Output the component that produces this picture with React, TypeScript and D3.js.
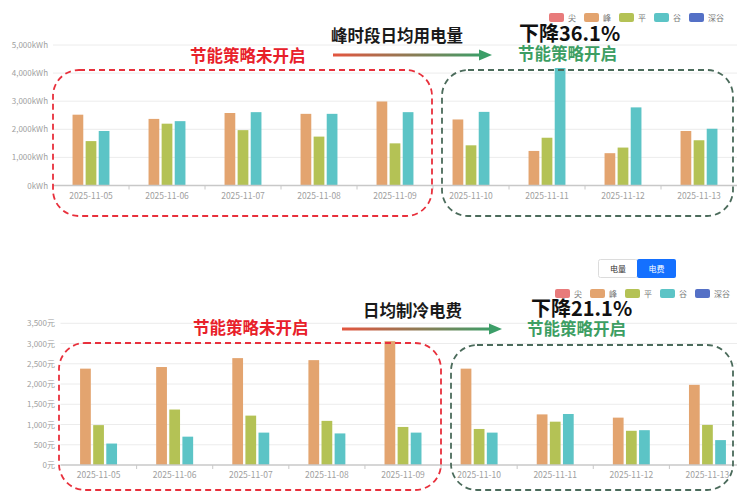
import React, { useEffect, useRef } from 'react'
import * as d3 from 'd3'

const dates = [
  '2025-11-05',
  '2025-11-06',
  '2025-11-07',
  '2025-11-08',
  '2025-11-09',
  '2025-11-10',
  '2025-11-11',
  '2025-11-12',
  '2025-11-13',
]
const seriesNames = ['尖', '峰', '平', '谷', '深谷']
const seriesColors = ['#E87B7B', '#E3A46F', '#B4C255', '#5CC4C6', '#5470C6']

// 电量 (kWh)
const kwhSharp = [0, 0, 0, 0, 0, 0, 0, 0, 0]
const kwhPeak = [2520, 2370, 2580, 2550, 2990, 2350, 1230, 1150, 1940]
const kwhFlat = [1580, 2200, 1970, 1740, 1500, 1430, 1700, 1350, 1610]
const kwhValley = [1940, 2290, 2610, 2550, 2610, 2620, 4180, 2780, 2020]
const kwhDeep = [0, 0, 0, 0, 0, 0, 0, 0, 0]
const kwhTicks = [0, 1000, 2000, 3000, 4000, 5000]

// 电费 (元)
const costSharp = [0, 0, 0, 0, 0, 0, 0, 0, 0]
const costPeak = [2380, 2420, 2640, 2590, 3060, 2380, 1250, 1170, 1980]
const costFlat = [985, 1370, 1220, 1090, 940, 890, 1070, 845, 990]
const costValley = [530, 700, 800, 780, 800, 800, 1260, 860, 615]
const costDeep = [0, 0, 0, 0, 0, 0, 0, 0, 0]
const costTicks = [0, 500, 1000, 1500, 2000, 2500, 3000, 3500]

const FONT = "'Noto Sans CJK SC', 'Noto Sans', sans-serif"

const App = () => {
  const ref = useRef<SVGSVGElement>(null)

  useEffect(() => {
    const svg = d3.select(ref.current)
    svg.selectAll('*').remove()

    const defs = svg.append('defs')
    const grad = defs
      .append('linearGradient')
      .attr('id', 'arrowGrad')
      .attr('x1', '0%')
      .attr('x2', '100%')
      .attr('y1', '0%')
      .attr('y2', '0%')
    grad.append('stop').attr('offset', '0%').attr('stop-color', '#E4553F')
    grad.append('stop').attr('offset', '100%').attr('stop-color', '#3C9E68')

    const drawChart = (opts: any) => {
      const { series, ticks, unit, yMax, yRange, xRange, labelX, legendX, legendY } = opts
      const g = svg.append('g')

      const x0 = d3.scaleBand().domain(dates).range(xRange).paddingInner(0.17).paddingOuter(0.085)
      const x1 = d3.scaleBand().domain(seriesNames).range([0, x0.bandwidth()]).paddingInner(0.18)
      const y = d3.scaleLinear().domain([0, yMax]).range(yRange)
      const fmt = d3.format(',')

      // grid + y labels
      g.append('g')
        .selectAll('line')
        .data(ticks.slice(1))
        .join('line')
        .attr('x1', xRange[0])
        .attr('x2', xRange[1])
        .attr('y1', (d: number) => y(d))
        .attr('y2', (d: number) => y(d))
        .attr('stroke', '#ECECEC')
        .attr('stroke-width', 1)

      g.append('g')
        .selectAll('text')
        .data(ticks)
        .join('text')
        .attr('x', labelX)
        .attr('y', (d: number) => y(d) + 3)
        .attr('text-anchor', 'end')
        .attr('font-size', 8)
        .attr('font-family', FONT)
        .attr('fill', '#A0A0A0')
        .text((d: number) => fmt(d) + unit)

      // bars
      g.append('g')
        .selectAll('g')
        .data(series)
        .join('g')
        .attr('fill', (_: any, i: number) => seriesColors[i])
        .selectAll('rect')
        .data((s: number[], i: number) => s.map((v, j) => ({ v, date: dates[j], name: seriesNames[i] })))
        .join('rect')
        .attr('x', (d: any) => (x0(d.date) as number) + (x1(d.name) as number))
        .attr('y', (d: any) => y(d.v))
        .attr('width', x1.bandwidth())
        .attr('height', (d: any) => y(0) - y(d.v))

      // x axis
      g.append('line')
        .attr('x1', xRange[0])
        .attr('x2', xRange[1])
        .attr('y1', y(0))
        .attr('y2', y(0))
        .attr('stroke', '#C8C8C8')
        .attr('stroke-width', 1.5)

      const step = x0.step()
      g.append('g')
        .selectAll('line')
        .data(d3.range(1, dates.length))
        .join('line')
        .attr('x1', (i: number) => xRange[0] + i * step)
        .attr('x2', (i: number) => xRange[0] + i * step)
        .attr('y1', y(0))
        .attr('y2', y(0) + 4)
        .attr('stroke', '#C8C8C8')

      g.append('g')
        .selectAll('text')
        .data(dates)
        .join('text')
        .attr('x', (d: string) => (x0(d) as number) + x0.bandwidth() / 2)
        .attr('y', y(0) + 13)
        .attr('text-anchor', 'middle')
        .attr('font-size', 8.5)
        .attr('font-family', FONT)
        .attr('fill', '#A0A0A0')
        .text((d: string) => d)

      // legend
      let lx = legendX
      seriesNames.forEach((name, i) => {
        g.append('rect')
          .attr('x', lx)
          .attr('y', legendY - 4.5)
          .attr('width', 15)
          .attr('height', 9)
          .attr('rx', 2)
          .attr('fill', seriesColors[i])
        g.append('text')
          .attr('x', lx + 19)
          .attr('y', legendY + 3)
          .attr('font-size', 8)
          .attr('font-family', FONT)
          .attr('fill', '#777')
          .text(name)
        lx += 15 + 4 + name.length * 8 + 8
      })
    }

    const drawNotes = (opts: any) => {
      const { title, titleX, titleY, arrowX, arrowY, pct, pctX, pctY, onX, onY, offX, offY, red, green } = opts
      const g = svg.append('g').attr('font-family', FONT).attr('font-weight', 'bold')

      g.append('rect')
        .attr('x', red[0])
        .attr('y', red[1])
        .attr('width', red[2])
        .attr('height', red[3])
        .attr('rx', 26)
        .attr('fill', 'none')
        .attr('stroke', '#E8303C')
        .attr('stroke-width', 1.8)
        .attr('stroke-dasharray', '6,4')
      g.append('rect')
        .attr('x', green[0])
        .attr('y', green[1])
        .attr('width', green[2])
        .attr('height', green[3])
        .attr('rx', 26)
        .attr('fill', 'none')
        .attr('stroke', '#4B6B5B')
        .attr('stroke-width', 1.8)
        .attr('stroke-dasharray', '6,4')

      g.append('text').attr('x', titleX).attr('y', titleY).attr('font-size', 16.5).attr('fill', '#1A1A1A').text(title)

      g.append('rect')
        .attr('x', arrowX[0])
        .attr('y', arrowY - 1.5)
        .attr('width', arrowX[1] - arrowX[0] - 10)
        .attr('height', 3)
        .attr('fill', 'url(#arrowGrad)')
      g.append('path')
        .attr('d', `M${arrowX[1] - 13},${arrowY - 5.5}L${arrowX[1]},${arrowY}L${arrowX[1] - 13},${arrowY + 5.5}Z`)
        .attr('fill', '#3C9E68')

      g.append('text').attr('x', pctX).attr('y', pctY).attr('font-size', 20).attr('fill', '#111').text(pct)
      g.append('text').attr('x', onX).attr('y', onY).attr('font-size', 16.5).attr('fill', '#3D9E63').text('节能策略开启')
      g.append('text').attr('x', offX).attr('y', offY).attr('font-size', 16.5).attr('fill', '#E8202A').text('节能策略未开启')
    }

    drawChart({
      series: [kwhSharp, kwhPeak, kwhFlat, kwhValley, kwhDeep],
      ticks: kwhTicks,
      unit: 'kWh',
      yMax: 5000,
      yRange: [185.5, 45],
      xRange: [53, 737],
      labelX: 48,
      legendX: 549,
      legendY: 17.5,
    })

    drawChart({
      series: [costSharp, costPeak, costFlat, costValley, costDeep],
      ticks: costTicks,
      unit: '元',
      yMax: 3500,
      yRange: [465, 323.3],
      xRange: [60.5, 745.5],
      labelX: 55,
      legendX: 555,
      legendY: 293.5,
    })

    // 电量 / 电费 switch
    const sw = svg.append('g').attr('font-family', FONT).attr('font-size', 8)
    sw.append('rect').attr('x', 598.5).attr('y', 259.5).attr('width', 39).attr('height', 18).attr('rx', 2).attr('fill', '#fff').attr('stroke', '#DCDCDC')
    sw.append('rect').attr('x', 637).attr('y', 259).attr('width', 39).attr('height', 19).attr('rx', 2).attr('fill', '#1470FF')
    sw.append('text').attr('x', 618).attr('y', 271.5).attr('text-anchor', 'middle').attr('fill', '#333').text('电量')
    sw.append('text').attr('x', 656.5).attr('y', 271.5).attr('text-anchor', 'middle').attr('fill', '#fff').text('电费')

    drawNotes({
      title: '峰时段日均用电量',
      titleX: 331,
      titleY: 42,
      arrowX: [333, 492],
      arrowY: 55,
      pct: '下降36.1%',
      pctX: 519,
      pctY: 41,
      onX: 518,
      onY: 60,
      offX: 190,
      offY: 62,
      red: [53, 70, 379, 146],
      green: [442, 70, 291, 146],
    })

    drawNotes({
      title: '日均制冷电费',
      titleX: 363,
      titleY: 316.5,
      arrowX: [342, 502],
      arrowY: 329,
      pct: '下降21.1%',
      pctX: 531,
      pctY: 316,
      onX: 527,
      onY: 335,
      offX: 193,
      offY: 334,
      red: [59, 343, 382, 147],
      green: [451, 345, 282, 145],
    })
  }, [])

  return (
    <svg
      ref={ref}
      width={737}
      height={491}
      style={{ position: 'absolute', left: 0, top: 0, background: '#fff' }}
    />
  )
}

export default App
